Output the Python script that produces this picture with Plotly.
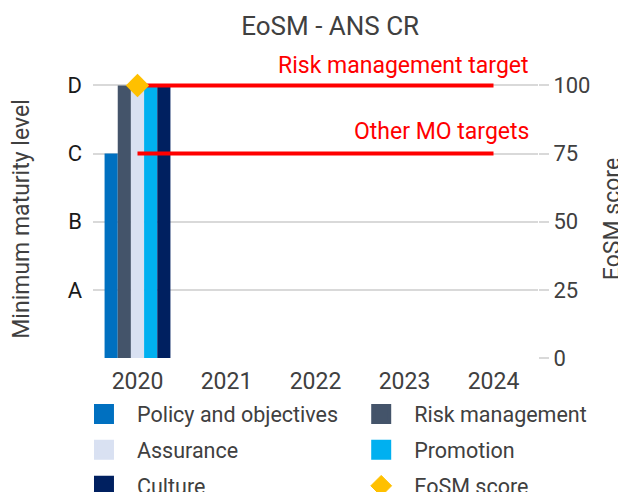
import plotly.graph_objects as go

years = ["2020", "2021", "2022", "2023", "2024"]
bar_years = ["2020"]
series_names = ["Policy and objectives", "Risk management", "Assurance", "Promotion", "Culture"]
series_values = [[75], [100], [100], [100], [100]]
series_colors = ["#0070C0", "#44546A", "#D9E1F2", "#00B0F0", "#002060"]
eosm_years = ["2020"]
eosm_scores = [100]
target_years = ["2020", "2024"]
risk_target = [100, 100]
other_target = [75, 75]
level_vals = [25, 50, 75, 100]
level_text = ["A", "B", "C", "D"]
score_ticks = [0, 25, 50, 75, 100]

FONT = "Roboto"
GRAY = "#404040"

fig = go.Figure()

for name, vals, col in zip(series_names, series_values, series_colors):
    fig.add_trace(go.Bar(x=bar_years, y=vals, name=name, marker_color=col,
                         marker_line_width=0, showlegend=False, yaxis="y"))

fig.add_trace(go.Scatter(x=target_years, y=other_target, mode="lines",
                         line=dict(color="#FF0000", width=4), showlegend=False,
                         cliponaxis=False, hoverinfo="skip", yaxis="y"))
fig.add_trace(go.Scatter(x=target_years, y=risk_target, mode="lines",
                         line=dict(color="#FF0000", width=4), showlegend=False,
                         cliponaxis=False, hoverinfo="skip", yaxis="y"))
fig.add_trace(go.Scatter(x=eosm_years, y=eosm_scores, mode="markers", name="EoSM score",
                         marker=dict(symbol="diamond", size=18, color="#FFC000"),
                         cliponaxis=False, showlegend=False, yaxis="y2"))

# legend proxies (two columns)
col1 = [0, 2, 4]
col2 = [1, 3]
for i in col1:
    fig.add_trace(go.Scatter(x=[None], y=[None], mode="markers", name=series_names[i],
                             marker=dict(symbol="square", size=20, color=series_colors[i],
                                         line=dict(color=series_colors[i], width=4)),
                             legend="legend", legendgroup=series_names[i]))
for i in col2:
    fig.add_trace(go.Scatter(x=[None], y=[None], mode="markers", name=series_names[i],
                             marker=dict(symbol="square", size=20, color=series_colors[i],
                                         line=dict(color=series_colors[i], width=4)),
                             legend="legend2", legendgroup=series_names[i]))
fig.add_trace(go.Scatter(x=[None], y=[None], mode="markers", name="EoSM score",
                         marker=dict(symbol="diamond", size=20, color="#FFC000",
                                     line=dict(color="#FFC000", width=1)),
                         legend="legend2", legendgroup="EoSM score"))

legend_common = dict(font=dict(family=FONT, size=21.5, color=GRAY), bgcolor="rgba(0,0,0,0)",
                     traceorder="grouped", tracegroupgap=5, itemwidth=56,
                     yanchor="top", xanchor="left", orientation="v")

W, H = 618, 484  # page body adds an 8px offset
YMAX = 102  # small headroom so the top target line is not clipped

fig.update_layout(
    width=W, height=H,
    margin=dict(l=85, r=88, t=71.5, b=134, autoexpand=False),
    paper_bgcolor="white", plot_bgcolor="white",
    font=dict(family=FONT, color=GRAY, size=22),
    title=dict(text="EoSM - ANS CR", x=0.533, xref="paper", xanchor="center",
               y=1 - 17.5 / H, yanchor="middle", font=dict(family=FONT, size=26, color=GRAY)),
    barmode="group", bargap=0.26, bargroupgap=0,
    xaxis=dict(type="category", categoryorder="array", categoryarray=years,
               range=[-0.5, 4.5], showgrid=False, showline=False, zeroline=False,
               tickfont=dict(size=23, color=GRAY), ticks="", ticklabelstandoff=7,
               automargin=False),
    yaxis=dict(range=[0, YMAX], tickvals=level_vals, ticktext=level_text, showgrid=False,
               zeroline=False, showline=False, ticks="", ticklabelstandoff=10,
               tickfont=dict(size=22, color="#1a1a1a"), automargin=False,
               title=dict(text="Minimum maturity level", font=dict(size=23, color=GRAY), standoff=33)),
    yaxis2=dict(range=[0, YMAX], tickvals=score_ticks, overlaying="y", side="right",
                showgrid=True, gridcolor="#D9D9D9", gridwidth=1.5, zeroline=False,
                ticks="outside", ticklen=10, tickcolor="#D9D9D9", tickwidth=1.5,
                tickfont=dict(size=22, color=GRAY), automargin=False,
                title=dict(text="EoSM score", font=dict(size=23, color=GRAY), standoff=21)),
    legend=dict(x=-0.0495, y=-0.1275, **legend_common),
    legend2=dict(x=0.5735, y=-0.1275, **legend_common),
    annotations=[
        dict(x=years.index("2024"), y=100, xref="x", yref="y", text="Risk management target",
             showarrow=False, xanchor="right", yanchor="middle", xshift=37, yshift=20,
             font=dict(family=FONT, size=23, color="#FF0000")),
        dict(x=years.index("2024"), y=75, xref="x", yref="y", text="Other MO targets",
             showarrow=False, xanchor="right", yanchor="middle", xshift=37, yshift=22,
             font=dict(family=FONT, size=23, color="#FF0000")),
    ],
)

fig.write_html("out.html")
